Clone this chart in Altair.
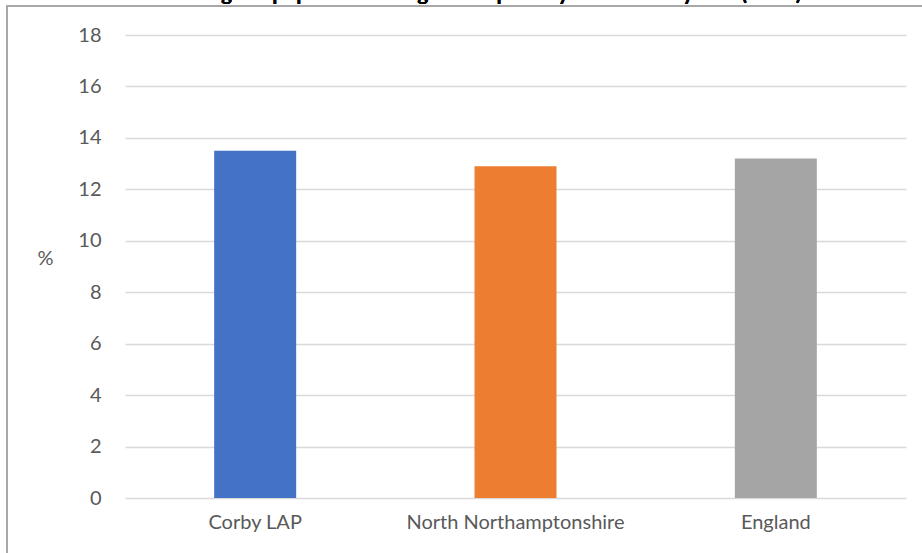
import altair as alt
import pandas as pd

categories = ["Corby LAP", "North Northamptonshire", "England"]
values = [13.5, 12.9, 13.2]
colors = ["#4472C4", "#ED7D31", "#A5A5A5"]
y_ticks = [0, 2, 4, 6, 8, 10, 12, 14, 16, 18]
title_text = "Percentage of population living in fuel poverty across Corby LAP (2020)"

df = pd.DataFrame({"cat": categories, "val": values})

W, H = 781, 463
FONT = "Lato"

base = alt.Chart(df)

bars = base.mark_bar(size=82).encode(
    x=alt.X("cat:N", sort=None, title=None,
            scale=alt.Scale(paddingInner=0, paddingOuter=0),
            axis=alt.Axis(labelAngle=0, domain=False, ticks=False, labelPadding=14,
                          labelLimit=0,
                          labelFontSize=20, labelColor="#595959", labelFont=FONT)),
    y=alt.Y("val:Q", title="%",
            scale=alt.Scale(domain=[0, 18], nice=False),
            axis=alt.Axis(values=y_ticks, domain=False, ticks=False, labelPadding=24,
                          labelFontSize=20, labelColor="#595959", labelFont=FONT,
                          gridColor="#D9D9D9", gridWidth=1.5,
                          titleAngle=0, titleX=-80, titleY=223, titleAlign="center",
                          titleBaseline="middle", titleFontSize=20, titleFontWeight="normal",
                          titleColor="#595959", titleFont=FONT)),
    color=alt.Color("cat:N", scale=alt.Scale(domain=categories, range=colors), legend=None),
)

frame = base.mark_rect(fillOpacity=0, stroke="#A6A6A6", strokeWidth=1.5).encode(
    x=alt.value(-118), x2=alt.value(W + 60), y=alt.value(-29), y2=alt.value(H + 90)
)

title = base.mark_text(fontSize=21, fontWeight="bold", font=FONT, color="#000000",
                       baseline="alphabetic", align="center").encode(
    x=alt.value(345), y=alt.value(-35), text=alt.value(title_text)
)

chart = alt.layer(frame, bars, title).properties(
    width=W, height=H,
    padding={"left": 125, "top": 35, "right": 16, "bottom": 55},
    autosize=alt.AutoSizeParams(type="none"),
    background="white",
).configure_view(stroke=None)

chart.save("out.html", embed_options={"renderer": "svg", "actions": False})
